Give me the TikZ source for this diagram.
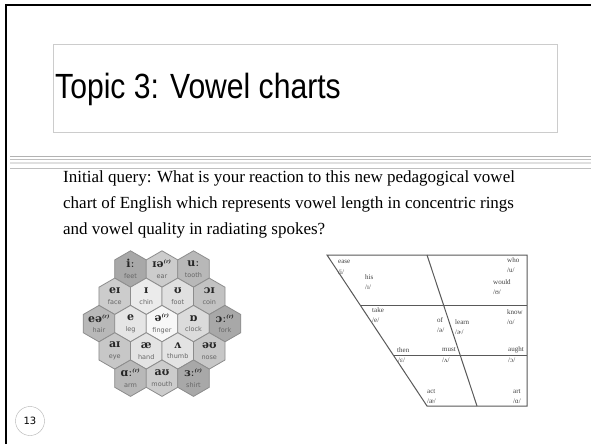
\documentclass[tikz,border=0pt]{standalone}
\usepackage{fontspec}
\setmainfont{Liberation Serif}
\newfontfamily\titlefont[FakeStretch=0.86]{Liberation Sans}
\newfontfamily\ipafont{DejaVu Serif}
\newfontfamily\wordfont{DejaVu Sans}
\usetikzlibrary{shapes.geometric}

\newcommand\rhotic{\textsuperscript{\tiny\itshape(r)}}

\begin{document}
\begin{tikzpicture}[x=1pt,y=-1pt,
hexcell/.style={regular polygon, regular polygon sides=6, shape border rotate=30, minimum size=36.4pt, inner sep=0pt, draw=black!45, line width=0.8pt},
hexlabel/.style={align=center, inner sep=0pt},
quadline/.style={draw=black!65, line width=1pt},
vlabel/.style={anchor=west, inner sep=0pt, text=black!75, font=\fontsize{7}{8}\selectfont}
]
\fill[white] (0,0) rectangle (591,444);
\useasboundingbox (0,0) rectangle (591,444);

% slide frame and title
\draw[line width=2.5pt] (6,444) -- (6,5) -- (591,5);
\node[draw=black!20, line width=0.6pt, minimum width=504pt, minimum height=88pt, anchor=north west] (titlebox) at (53,44) {};
\node[anchor=west, inner sep=0pt, font=\titlefont\fontsize{35}{35}\selectfont] (title) at (55,89) {Topic 3: Vowel charts};
\draw[black!30, line width=0.5pt] (10,156) -- (591,156);
\draw[black!25, line width=0.5pt] (10,159) -- (591,159);
\draw[black!12, line width=1.5pt] (10,163) -- (591,163);
\draw[black!25, line width=0.5pt] (10,168) -- (591,168);

\node[anchor=north west, align=left, inner sep=0pt, font=\fontsize{17}{26}\selectfont] (query) at (63,171)
{Initial query: What is your reaction to this new pedagogical vowel\\
chart of English which represents vowel length in concentric rings\\
and vowel quality in radiating spokes?};

% hexagon chart
\foreach \hx/\hy/\shade/\sym/\word/\nm in {
-2/-2/34/iː/feet/feet, 0/-2/20/ɪə\rhotic/ear/ear, 2/-2/28/uː/tooth/tooth,
-3/-1/20/eɪ/face/face, -1/-1/8/ɪ/chin/chin, 1/-1/12/ʊ/foot/foot, 3/-1/24/ɔɪ/coin/coin,
-4/0/28/eə\rhotic/hair/hair, -2/0/10/e/leg/leg, 0/0/3/ə\rhotic/finger/finger, 2/0/14/ɒ/clock/clock, 4/0/34/ɔː\rhotic/fork/fork,
-3/1/22/aɪ/eye/eye, -1/1/11/æ/hand/hand, 1/1/11/ʌ/thumb/thumb, 3/1/22/əʊ/nose/nose,
-2/2/28/ɑː\rhotic/arm/arm, 0/2/20/aʊ/mouth/mouth, 2/2/34/ɜː\rhotic/shirt/shirt}
{
\node[hexcell, fill=black!\shade] (\nm) at (162+\hx*15.75, 323.6+\hy*27.3) {};
\node[hexlabel] at (\nm) {{\ipafont\bfseries\fontsize{11}{11}\selectfont\color{black!85}\sym}\\[-1.5pt]
{\wordfont\fontsize{6.5}{7}\selectfont\color{black!60}\word}};
}

% vowel quadrilateral
\coordinate (tl) at (327,255);
\coordinate (tr) at (527,255);
\coordinate (br) at (527,406);
\coordinate (bl) at (427,406);
\coordinate (ml) at (360,305);
\coordinate (mr) at (527,305);
\coordinate (ll) at (393,355);
\coordinate (lr) at (527,355);
\coordinate (it) at (427,255);
\coordinate (ib) at (477,406);
\draw[quadline] (tl) -- (tr) -- (br) -- (bl) -- cycle;
\draw[quadline] (ml) -- (mr);
\draw[quadline] (ll) -- (lr);
\draw[quadline] (it) -- (ib);

\node[vlabel] (ease) at (338,262) {ease};
\node[vlabel] at (338,272) {/i/};
\node[vlabel] (his) at (365,277) {his};
\node[vlabel] at (365,287) {/ɪ/};
\node[vlabel] (take) at (372,310) {take};
\node[vlabel] at (372,320) {/e/};
\node[vlabel] (of) at (437,320) {of};
\node[vlabel] at (437,330) {/ə/};
\node[vlabel] (learn) at (455,322) {learn};
\node[vlabel] at (455,332) {/ɚ/};
\node[vlabel] (who) at (507,260) {who};
\node[vlabel] at (507,270) {/u/};
\node[vlabel] (would) at (493,282) {would};
\node[vlabel] at (493,292) {/ʊ/};
\node[vlabel] (know) at (507,312) {know};
\node[vlabel] at (507,322) {/o/};
\node[vlabel] (then) at (397,350) {then};
\node[vlabel] at (398,360) {/ɛ/};
\node[vlabel] (must) at (442,350) {must};
\node[vlabel] at (442,360) {/ʌ/};
\node[vlabel] (aught) at (508,350) {aught};
\node[vlabel] at (508,360) {/ɔ/};
\node[vlabel] (act) at (427,392) {act};
\node[vlabel] at (427,401) {/æ/};
\node[vlabel] (art) at (513,392) {art};
\node[vlabel] at (513,401) {/ɑ/};

% slide number
\node[circle, draw=black!30, minimum size=29pt, inner sep=0pt, font=\wordfont\fontsize{10}{10}\selectfont] (slidenum) at (30,421) {13};
\end{tikzpicture}
\end{document}
